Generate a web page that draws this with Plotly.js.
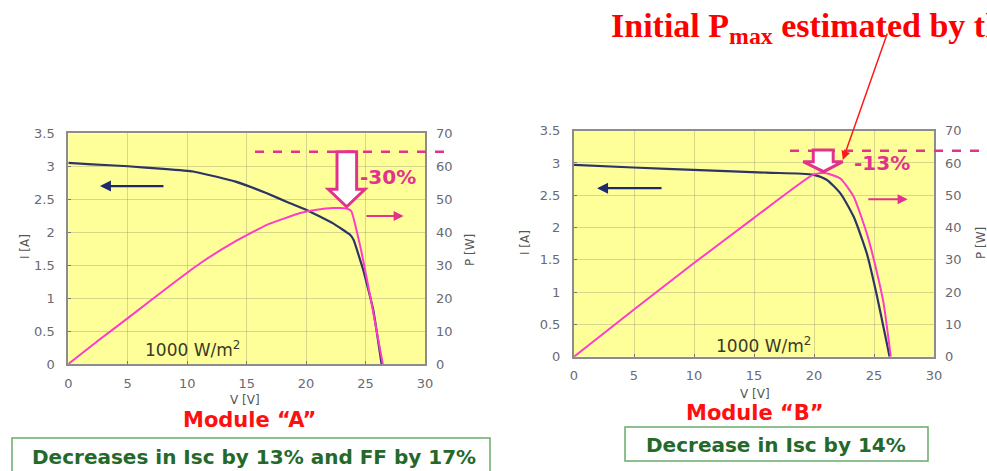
<!DOCTYPE html>
<html>
<head>
<meta charset="utf-8">
<script src="https://cdn.plot.ly/plotly-3.0.1.min.js"></script>
<style>html,body{margin:0;padding:0;background:#fff;}#chart{width:987px;height:471px;}</style>
</head>
<body>
<div id="chart"></div>
<script>
// Module A – I-V curve
const vA_iv = [0, 2, 5, 8, 10.5, 12, 14, 16.7, 18.5, 20, 22.3, 23.7, 24.0, 24.8, 25.65, 26.35];
const iA    = [3.05, 3.03, 3.0, 2.96, 2.92, 2.86, 2.77, 2.59, 2.45, 2.34, 2.13, 1.96, 1.88, 1.43, 0.82, 0];
// Module A – P-V curve
const vA_pv = [0, 2.66, 5.47, 8.27, 11.07, 13.9, 16.7, 19.5, 20.9, 22.3, 23.4, 23.8, 24.5, 25.4, 26.45];
const pA    = [0, 7.5, 15.2, 23.0, 30.5, 36.9, 42.2, 45.8, 46.8, 47.3, 47.2, 46.4, 36.6, 20.4, 0];
// Module B – I-V curve
const vB_iv = [0, 4.94, 10.5, 16.05, 19.9, 21.05, 22.2, 23.3, 24.4, 25.2, 26.3];
const iB    = [2.97, 2.93, 2.89, 2.85, 2.82, 2.74, 2.53, 2.17, 1.6, 0.98, 0];
// Module B – P-V curve
const vB_pv = [0, 5, 10, 15, 19.9, 20.8, 22.2, 23.3, 24.4, 25.2, 25.8, 26.4];
const pB    = [0, 14.6, 29.0, 43.0, 56.3, 57.0, 55.2, 49.6, 38.2, 26.8, 16.5, 0];
// Initial (nameplate) Pmax levels and relative drops
const pInitA = 64.4, pInitB = 63.8;
const dropA = '-30%', dropB = '-13%';
const irradiance = '1000 W/m<sup>2</sup>';

const NAVY = '#2c3566', PINK = '#ff3cc8', MAG = '#e2338c', YEL = '#ffff99';
const FONT = 'DejaVu Sans, Liberation Sans, Arial, sans-serif';
const tickFont = {family: FONT, size: 13, color: '#6a6a74'};

function xAx(domain, anchor) {
  return {domain: domain, anchor: anchor, range: [0, 30], dtick: 5, tick0: 0,
    showgrid: true, gridcolor: 'rgba(140,140,110,0.35)', gridwidth: 1,
    zeroline: false, showline: true, mirror: true, linecolor: '#8c8c8c', linewidth: 2,
    ticks: 'inside', ticklen: 3, tickcolor: '#777', tickfont: tickFont, ticklabelstandoff: 6,
    fixedrange: true};
}
function yAx(domain, anchor, range, dtick) {
  return {domain: domain, anchor: anchor, range: range, dtick: dtick, tick0: 0,
    showgrid: true, gridcolor: 'rgba(140,140,110,0.35)', gridwidth: 1,
    zeroline: false, showline: true, mirror: true, linecolor: '#8c8c8c', linewidth: 2,
    ticks: 'inside', ticklen: 3, tickcolor: '#777', tickfont: tickFont, ticklabelstandoff: 9,
    fixedrange: true};
}
function yAxR(overlay, anchor, range, dtick) {
  return {overlaying: overlay, side: 'right', anchor: anchor, range: range, dtick: dtick, tick0: 0,
    showgrid: false, zeroline: false, showline: false,
    ticks: '', tickfont: tickFont, ticklabelstandoff: 10, fixedrange: true};
}

const traces = [
  {x: vA_iv, y: iA, xaxis: 'x', yaxis: 'y', mode: 'lines', line: {color: NAVY, width: 2.2, shape: 'spline', smoothing: 0.3}, hoverinfo: 'skip'},
  {x: vA_pv, y: pA, xaxis: 'x', yaxis: 'y2', mode: 'lines', line: {color: PINK, width: 2, shape: 'spline', smoothing: 0.4}, hoverinfo: 'skip'},
  {x: vB_iv, y: iB, xaxis: 'x2', yaxis: 'y3', mode: 'lines', line: {color: NAVY, width: 2.2, shape: 'spline', smoothing: 0.6}, hoverinfo: 'skip'},
  {x: vB_pv, y: pB, xaxis: 'x2', yaxis: 'y4', mode: 'lines', line: {color: PINK, width: 2, shape: 'spline', smoothing: 0.5}, hoverinfo: 'skip'}
];

const W = 987, H = 471;
const px = v => v / W, py = v => (H - v) / H;
function note(x, y, text, font, extra) {
  return Object.assign({xref: 'paper', yref: 'paper', x: px(x), y: py(y), xanchor: 'center', yanchor: 'middle',
    showarrow: false, text: text, font: font}, extra || {});
}
const small = {family: FONT, size: 12, color: '#555'};
const modFont = {family: FONT, size: 21, color: '#ff1010'};
const boxFont = {family: FONT, size: 20, color: '#24692a'};

const layout = {
  width: W, height: H, margin: {l: 0, r: 0, t: 0, b: 0},
  paper_bgcolor: '#ffffff', plot_bgcolor: YEL, showlegend: false,
  font: {family: FONT},
  xaxis: xAx([px(68.3), px(425)], 'y'),
  yaxis: yAx([py(364), py(133.3)], 'x', [0, 3.5], 0.5),
  yaxis2: yAxR('y', 'x', [0, 70], 10),
  xaxis2: xAx([px(574), px(934)], 'y3'),
  yaxis3: yAx([py(356.7), py(130.7)], 'x2', [0, 3.5], 0.5),
  yaxis4: yAxR('y3', 'x2', [0, 70], 10),
  shapes: [
    // initial Pmax dashed lines
    {type: 'line', xref: 'paper', yref: 'y2', x0: px(255), x1: px(450), y0: pInitA, y1: pInitA,
     line: {color: MAG, width: 2.5, dash: 'dash'}},
    {type: 'line', xref: 'paper', yref: 'y4', x0: px(790), x1: 1, y0: pInitB, y1: pInitB,
     line: {color: MAG, width: 2.5, dash: 'dash'}},
    // hollow block arrows
    {type: 'path', xref: 'x', yref: 'y2',
     path: 'M 22.6 64.4 L 24.25 64.4 L 24.25 53 L 24.95 53 L 23.41 47.7 L 21.87 53 L 22.6 53 Z',
     fillcolor: '#ffffff', line: {color: MAG, width: 3}},
    {type: 'path', xref: 'x2', yref: 'y4',
     path: 'M 19.94 64.0 L 21.6 64.0 L 21.6 60.4 L 22.4 60.4 L 20.8 57.3 L 19.1 60.4 L 19.94 60.4 Z',
     fillcolor: '#ffffff', line: {color: MAG, width: 3}},
    // text boxes
    {type: 'rect', xref: 'paper', yref: 'paper', x0: px(12), x1: px(490), y0: py(478), y1: py(438),
     line: {color: '#6aab6a', width: 1.5}, fillcolor: 'rgba(0,0,0,0)'},
    {type: 'rect', xref: 'paper', yref: 'paper', x0: px(625), x1: px(928), y0: py(461), y1: py(427),
     line: {color: '#6aab6a', width: 1.5}, fillcolor: 'rgba(0,0,0,0)'}
  ],
  annotations: [
    // title
    note(609, 28, '<b>Initial P<sub>max</sub> estimated by the manufacturer</b>',
      {family: 'Liberation Serif, Times New Roman, serif', size: 34, color: '#ff0000'}, {xanchor: 'left'}),
    // red pointer arrow
    {xref: 'x2', yref: 'y4', x: 22.4, y: 60.9, ax: 45, ay: -128, text: '', showarrow: true,
     arrowcolor: '#ff1a1a', arrowwidth: 1.5, arrowhead: 2, arrowsize: 1.2},
    // navy / pink direction arrows
    {xref: 'x', yref: 'y', x: 2.66, y: 2.70, axref: 'x', ayref: 'y', ax: 8.13, ay: 2.70, text: '', showarrow: true,
     arrowcolor: '#1f2a6e', arrowwidth: 2.2, arrowhead: 2, arrowsize: 1},
    {xref: 'x', yref: 'y2', x: 28.2, y: 44.9, axref: 'x', ayref: 'y2', ax: 24.95, ay: 44.9, text: '', showarrow: true,
     arrowcolor: MAG, arrowwidth: 2, arrowhead: 2, arrowsize: 1},
    {xref: 'x2', yref: 'y3', x: 1.92, y: 2.61, axref: 'x2', ayref: 'y3', ax: 7.42, ay: 2.61, text: '', showarrow: true,
     arrowcolor: '#1f2a6e', arrowwidth: 2.2, arrowhead: 2, arrowsize: 1},
    {xref: 'x2', yref: 'y4', x: 27.8, y: 48.8, axref: 'x2', ayref: 'y4', ax: 24.4, ay: 48.8, text: '', showarrow: true,
     arrowcolor: MAG, arrowwidth: 2, arrowhead: 2, arrowsize: 1},
    // percentage drops
    {xref: 'x', yref: 'y2', x: 26.87, y: 56.7, xanchor: 'center', yanchor: 'middle', text: '<b>' + dropA + '</b>', showarrow: false,
     font: {family: FONT, size: 20, color: MAG}},
    {xref: 'x2', yref: 'y4', x: 25.67, y: 60.0, xanchor: 'center', yanchor: 'middle', text: '<b>' + dropB + '</b>', showarrow: false,
     font: {family: FONT, size: 20, color: MAG}},
    // irradiance
    {xref: 'x', yref: 'y', x: 10.48, y: 0.23, xanchor: 'center', yanchor: 'middle', text: irradiance, showarrow: false,
     font: {family: FONT, size: 17, color: '#3a3a26'}},
    {xref: 'x2', yref: 'y3', x: 15.75, y: 0.18, xanchor: 'center', yanchor: 'middle', text: irradiance, showarrow: false,
     font: {family: FONT, size: 17, color: '#3a3a26'}},
    // axis titles
    note(25, 247, 'I [A]', small, {textangle: -90}),
    note(470, 250, 'P [W]', small, {textangle: -90}),
    note(525, 243, 'I [A]', small, {textangle: -90}),
    note(981, 243, 'P [W]', small, {textangle: -90}),
    note(245, 400, 'V [V]', small),
    note(755, 394, 'V [V]', small),
    // module labels
    note(249, 420, '<b>Module “A”</b>', modFont),
    note(755, 413, '<b>Module “B”</b>', modFont),
    // box texts
    note(254, 457, '<b>Decreases in Isc by 13% and FF by 17%</b>', boxFont),
    note(776, 445, '<b>Decrease in Isc by 14%</b>', boxFont)
  ]
};

Plotly.newPlot('chart', traces, layout, {staticPlot: true, displayModeBar: false});
</script>
</body>
</html>
